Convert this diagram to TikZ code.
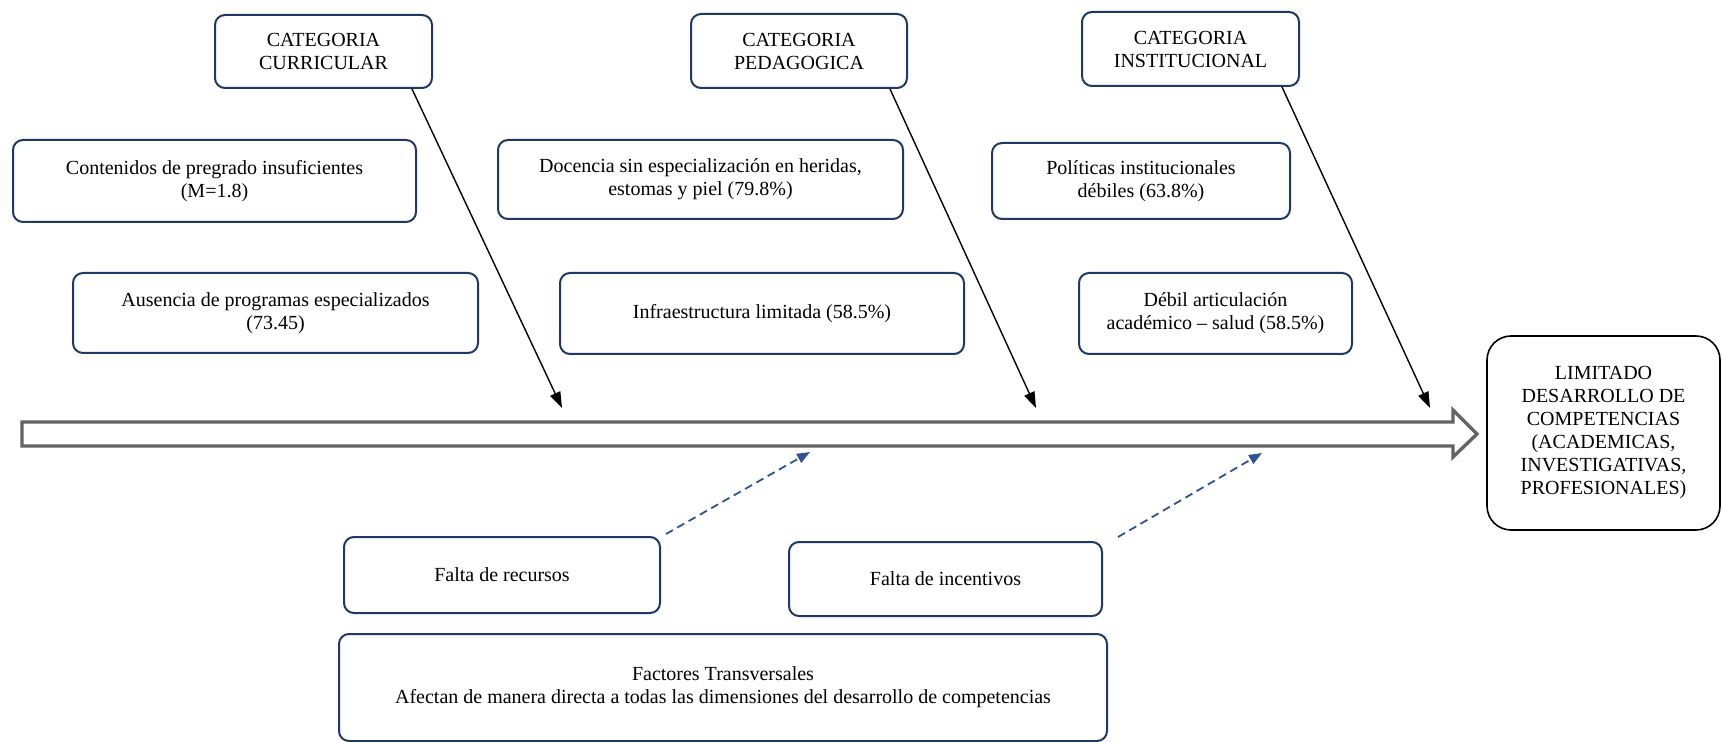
\documentclass[tikz,border=0pt]{standalone}
\usepackage{fontspec}
\setmainfont{Liberation Serif}
\newfontfamily\labelface{Liberation Serif}
\usetikzlibrary{arrows.meta,calc}
\definecolor{boxblue}{RGB}{31,56,100}
\definecolor{dashblue}{RGB}{47,84,150}
\definecolor{spinegray}{RGB}{100,100,100}
\begin{document}
\begin{tikzpicture}[x=0.5pt,y=-0.5pt,
  every node/.style={font=\labelface\fontsize{10}{11.5}\selectfont, align=center, inner sep=0pt},
  box/.style={draw=boxblue, line width=1pt, rounded corners=5pt},
  effectbox/.style={draw=black, line width=0.8pt, rounded corners=12pt},
  spine/.style={draw=spinegray, line width=1.7pt, fill=white, line join=miter},
  cause/.style={draw=black, line width=0.7pt, -{Triangle[length=8pt,width=5.5pt]}},
  transv/.style={draw=dashblue, line width=0.9pt, dash pattern=on 4pt off 2.5pt,
                 -{Triangle[length=6.5pt,width=5pt]}}]

\useasboundingbox (0,0) rectangle (1722,742);
\fill[white] (0,0) rectangle (1722,742);

% category headers
\node[box, minimum width=108.5pt, minimum height=36.5pt] (catc) at (323.5,51.5) {CATEGORIA\\CURRICULAR};
\node[box, minimum width=108pt, minimum height=37pt] (catp) at (799,51) {CATEGORIA\\PEDAGOGICA};
\node[box, minimum width=108.5pt, minimum height=37pt] (cati) at (1190.5,49) {CATEGORIA\\INSTITUCIONAL};

% causes
\node[box, minimum width=201.5pt, minimum height=41pt] (cont) at (214.5,181) {Contenidos de pregrado insuficientes\\(M=1.8)};
\node[box, minimum width=202.5pt, minimum height=40pt] (aus) at (275.5,313) {Ausencia de programas especializados\\(73.45)};
\node[box, minimum width=202.5pt, minimum height=39.5pt] (doc) at (700.5,179.5) {Docencia sin especialización en heridas,\\estomas y piel (79.8\%)};
\node[box, minimum width=202pt, minimum height=40.5pt] (inf) at (762,313.5) {Infraestructura limitada (58.5\%)};
\node[box, minimum width=149pt, minimum height=38pt] (pol) at (1141,181) {Políticas institucionales\\débiles (63.8\%)};
\node[box, minimum width=136.5pt, minimum height=40.5pt] (deb) at (1215.5,313.5) {Débil articulación\\académico – salud (58.5\%)};

% effect
\node[effectbox, minimum width=116.5pt, minimum height=97pt] (lim) at (1603.5,433)
  {LIMITADO\\DESARROLLO DE\\COMPETENCIAS\\(ACADEMICAS,\\INVESTIGATIVAS,\\PROFESIONALES)};

% transversal factors
\node[box, minimum width=158pt, minimum height=38pt] (rec) at (502,575) {Falta de recursos};
\node[box, minimum width=156.5pt, minimum height=37pt] (inc) at (945.5,579) {Falta de incentivos};
\node[box, minimum width=384pt, minimum height=53.5pt] (fac) at (723,687.5)
  {Factores Transversales\\Afectan de manera directa a todas las dimensiones del desarrollo de competencias};

% main spine (hollow block arrow)
\coordinate (stail) at (22,434);
\coordinate (stip) at (1477,434);
\draw[spine] (22,422) -- (1453,422) -- (1453,410) -- (stip) -- (1453,457) -- (1453,446) -- (22,446) -- cycle;

% arrow ends on the spine
\coordinate (h1) at (562,408);
\coordinate (h2) at (1036,408);
\coordinate (h3) at (1430,408);
\coordinate (t1) at (810,452);
\coordinate (t2) at (1262,453);

\draw[cause] ([xshift=-10.5pt]catc.south east) -- (h1);
\draw[cause] ([xshift=-9pt]catp.south east) -- (h2);
\draw[cause] ([xshift=-9pt]cati.south east) -- (h3);

\draw[transv] ([xshift=2.5pt,yshift=1pt]rec.north east) -- (t1);
\draw[transv] ([xshift=7.5pt,yshift=2pt]inc.north east) -- (t2);

\end{tikzpicture}
\end{document}
